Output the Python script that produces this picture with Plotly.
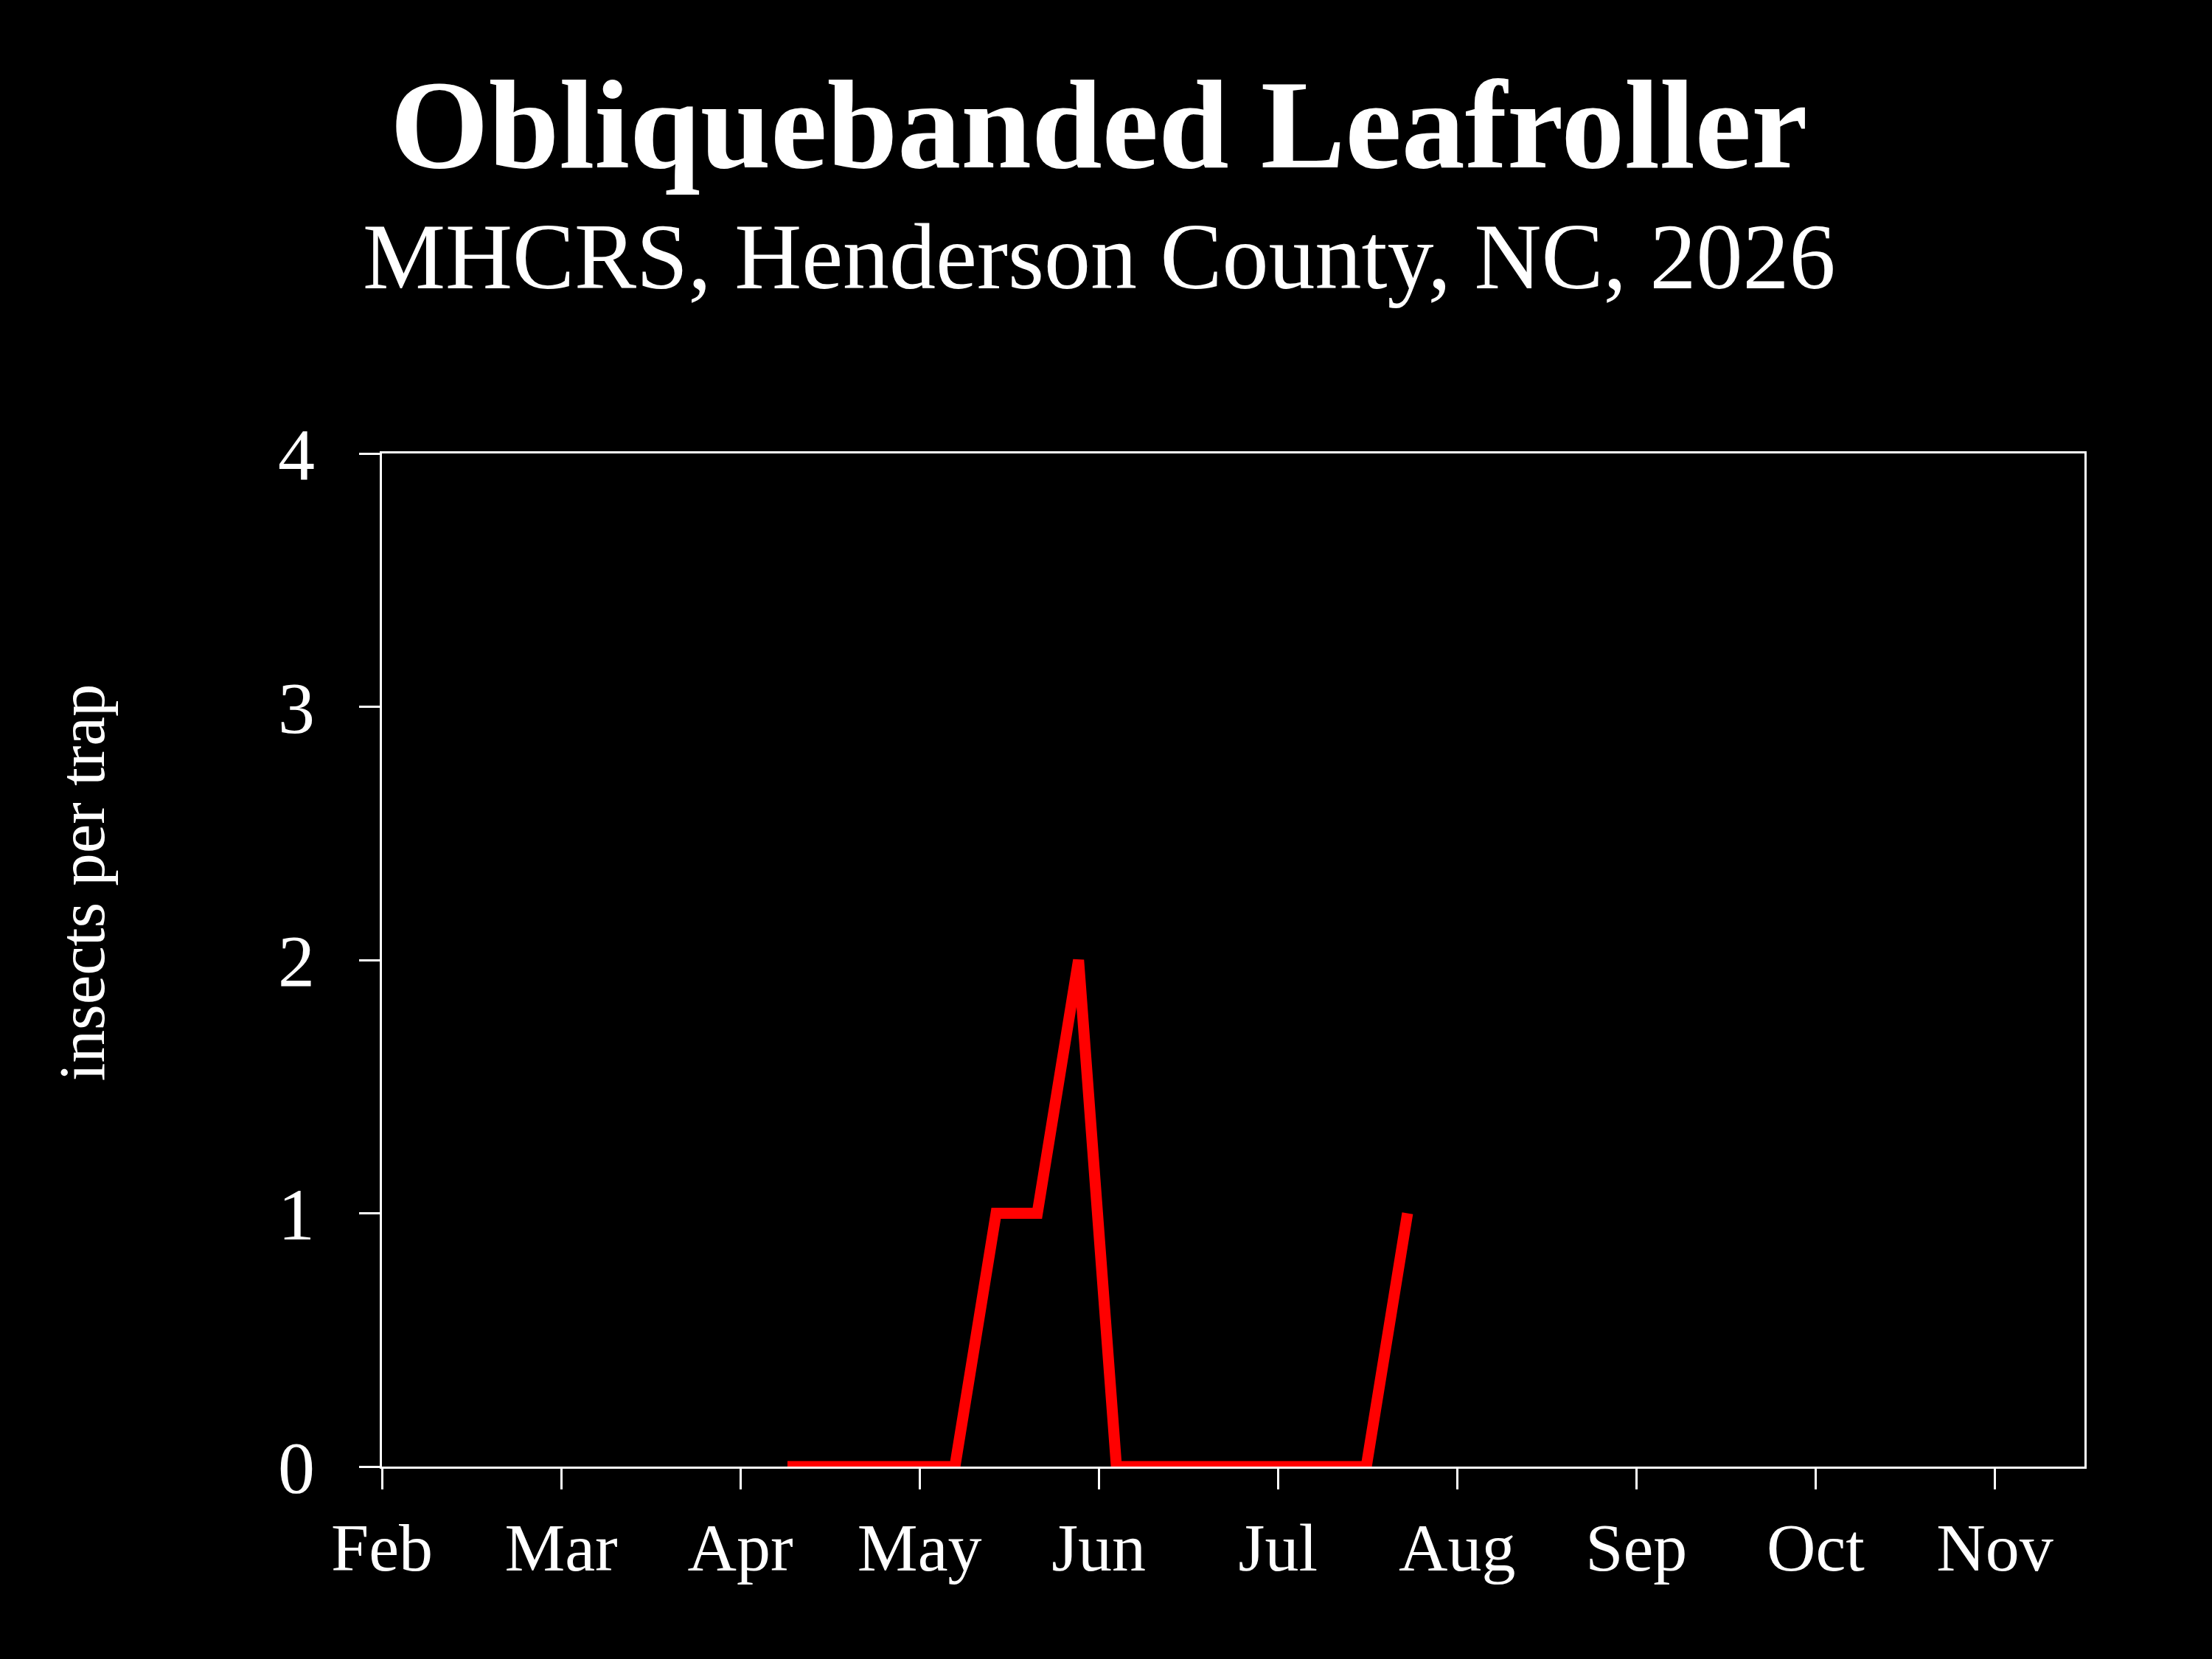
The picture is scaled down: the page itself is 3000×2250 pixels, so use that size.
import datetime as dt
import plotly.graph_objects as go

# ---- data ----
sample_dates = ["2026-04-09", "2026-04-16", "2026-04-23", "2026-04-30",
                "2026-05-07", "2026-05-14", "2026-05-21", "2026-05-28",
                "2026-06-04", "2026-06-11", "2026-06-18", "2026-06-25",
                "2026-07-02", "2026-07-09", "2026-07-16", "2026-07-23"]
insects_per_trap = [0, 0, 0, 0, 0, 1, 1, 2, 0, 0, 0, 0, 0, 0, 0, 1]
month_labels = ["Feb", "Mar", "Apr", "May", "Jun", "Jul", "Aug", "Sep", "Oct", "Nov"]
month_numbers = [2, 3, 4, 5, 6, 7, 8, 9, 10, 11]
y_ticks = [0, 1, 2, 3, 4]

title_text = "Obliquebanded Leafroller"
subtitle_text = "MHCRS, Henderson County, NC, 2026"
y_title = "insects per trap"


def month_position(s):
    d = dt.date.fromisoformat(s)
    return d.month + (d.day - 1) / 30.44


x_vals = [month_position(s) for s in sample_dates]

FONT = "Liberation Serif"

fig = go.Figure()
fig.add_trace(go.Scatter(
    x=x_vals, y=insects_per_trap, mode="lines",
    line=dict(color="#ff0000", width=15),
    showlegend=False, hoverinfo="skip",
))

axis_common = dict(
    showline=True, linecolor="white", linewidth=3, mirror=True,
    ticks="outside", tickcolor="white", tickwidth=3, ticklen=28,
    showgrid=False, zeroline=False,
)

fig.update_layout(
    width=3000, height=2250,
    paper_bgcolor="black", plot_bgcolor="black",
    margin=dict(l=518, r=173, t=615, b=261),
    font=dict(family=FONT, color="white"),
    xaxis=dict(range=[2, 11.5], tickvals=month_numbers, ticktext=month_labels,
               tickfont=dict(family=FONT, size=92, color="white"),
               ticklabelstandoff=0, **axis_common),
    yaxis=dict(range=[0, 4], tickvals=y_ticks,
               tickfont=dict(family=FONT, size=100, color="white"),
               ticklabelstandoff=40, **axis_common),
    annotations=[
        dict(text="<b>" + title_text + "</b>", xref="paper", yref="paper",
             x=0.421, y=1.3246, xanchor="center", yanchor="middle",
             showarrow=False, font=dict(family=FONT, size=172, color="white")),
        dict(text=subtitle_text, xref="paper", yref="paper",
             x=0.421, y=1.1936, xanchor="center", yanchor="middle",
             showarrow=False, font=dict(family=FONT, size=126, color="white")),
        dict(text=y_title, xref="paper", yref="paper",
             x=-0.1763, y=0.577, xanchor="center", yanchor="middle",
             textangle=-90, showarrow=False,
             font=dict(family=FONT, size=89, color="white")),
    ],
)

fig.write_html(
    "out.html",
    config={"displayModeBar": False},
    post_script="document.body.style.margin='0';document.body.style.background='black';",
)
